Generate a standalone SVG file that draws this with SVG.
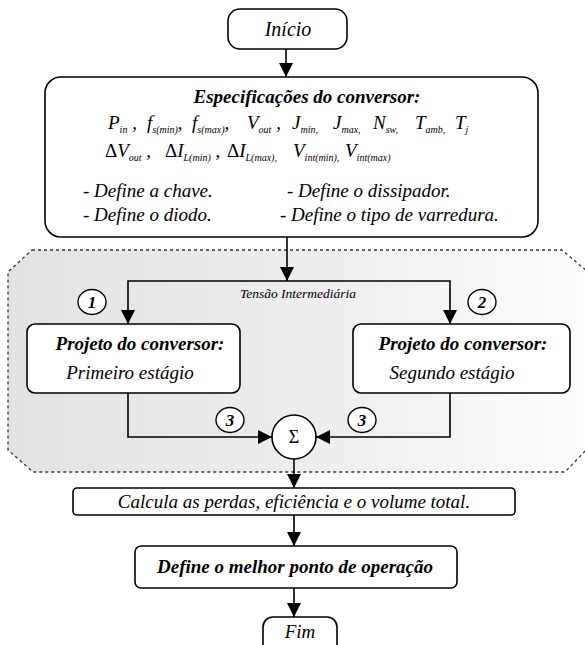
<svg xmlns="http://www.w3.org/2000/svg" width="585" height="645" viewBox="0 0 585 645">
<defs>
<linearGradient id="g" x1="0" y1="0" x2="1" y2="0">
<stop offset="0" stop-color="#e2e2e2"/>
<stop offset="0.6" stop-color="#efefef"/>
<stop offset="1" stop-color="#fdfdfd"/>
</linearGradient>
<marker id="ar" markerUnits="userSpaceOnUse" markerWidth="16" markerHeight="16" viewBox="0 0 16 16" refX="14" refY="8" orient="auto">
<path d="M0,1 L14,8 L0,15 Z" fill="#000"/>
</marker>
</defs>
<g id="region">
<path d="M32,250 L562,250 L588,272 L588,448 L565,472 L33,472 L8,450 L8,272 Z" fill="url(#g)" stroke="#333" stroke-width="1.3" stroke-dasharray="3,3"/>
</g>
<g id="connectors" fill="none" stroke="#000" stroke-width="1.6">
<line x1="286" y1="49" x2="286" y2="77" marker-end="url(#ar)"/>
<line x1="287" y1="237" x2="287" y2="281" marker-end="url(#ar)"/>
<polyline points="287,281 128,281 128,324" marker-end="url(#ar)"/>
<polyline points="287,281 450,281 450,324" marker-end="url(#ar)"/>
<polyline points="128,393 128,437 272,437" marker-end="url(#ar)"/>
<polyline points="450,393 450,437 316,437" marker-end="url(#ar)"/>
<line x1="294" y1="459" x2="294" y2="488" marker-end="url(#ar)"/>
<line x1="294" y1="515" x2="294" y2="546" marker-end="url(#ar)"/>
<line x1="294" y1="588" x2="294" y2="617" marker-end="url(#ar)"/>
</g>
<text x="298" y="298" font-family="Liberation Serif" font-style="italic" font-size="13.5" text-anchor="middle">Tensão Intermediária</text>
<g id="inicio">
<rect x="228" y="9" width="119" height="40" rx="12" fill="#fff" stroke="#000" stroke-width="1.6"/>
<text x="288" y="36" font-family="Liberation Serif" font-style="italic" font-size="20" text-anchor="middle">Início</text>
</g>
<g id="spec">
<rect x="45" y="77" width="493" height="160" rx="16" fill="#fff" stroke="#000" stroke-width="1.6"/>
<text x="307" y="103" font-family="Liberation Serif" font-style="italic" font-weight="bold" font-size="19" text-anchor="middle">Especificações do conversor:</text>
<text y="129" font-family="Liberation Serif" font-style="italic" font-size="19"><tspan x="108">P</tspan><tspan font-size="10" dy="4">in</tspan><tspan dy="-4"> ,</tspan><tspan x="147">f</tspan><tspan font-size="10" dy="4">s(min)</tspan><tspan dy="-4">,</tspan><tspan x="192">f</tspan><tspan font-size="10" dy="4">s(max)</tspan><tspan dy="-4">,</tspan><tspan x="247">V</tspan><tspan font-size="10" dy="4">out</tspan><tspan dy="-4"> ,</tspan><tspan x="292">J</tspan><tspan font-size="10" dy="4">min,</tspan><tspan x="333" dy="-4">J</tspan><tspan font-size="10" dy="4">max,</tspan><tspan x="373" dy="-4">N</tspan><tspan font-size="10" dy="4">sw,</tspan><tspan x="415" dy="-4">T</tspan><tspan font-size="10" dy="4">amb,</tspan><tspan x="455" dy="-4">T</tspan><tspan font-size="10" dy="4">j</tspan></text>
<text y="157" font-family="Liberation Serif" font-style="italic" font-size="19"><tspan x="105" font-style="normal">Δ</tspan><tspan>V</tspan><tspan font-size="10" dy="4">out</tspan><tspan dy="-4"> ,</tspan><tspan x="165" font-style="normal">Δ</tspan><tspan>I</tspan><tspan font-size="10" dy="4">L(min)</tspan><tspan dy="-4"> ,</tspan><tspan x="227" font-style="normal">Δ</tspan><tspan>I</tspan><tspan font-size="10" dy="4">L(max),</tspan><tspan x="293" dy="-4">V</tspan><tspan font-size="10" dy="4">int(min),</tspan><tspan x="345" dy="-4">V</tspan><tspan font-size="10" dy="4">int(max)</tspan></text>
<text x="83" y="197" font-family="Liberation Serif" font-style="italic" font-size="19">- Define a chave.</text>
<text x="287" y="197" font-family="Liberation Serif" font-style="italic" font-size="19">- Define o dissipador.</text>
<text x="83" y="221" font-family="Liberation Serif" font-style="italic" font-size="19">- Define o diodo.</text>
<text x="280" y="221" font-family="Liberation Serif" font-style="italic" font-size="19">- Define o tipo de varredura.</text>
</g>
<g id="n1">
<ellipse cx="92" cy="302" rx="14" ry="12.5" fill="#fff" stroke="#000" stroke-width="1.4"/>
<text x="92" y="308" font-family="Liberation Serif" font-style="italic" font-weight="bold" font-size="17" text-anchor="middle">1</text>
</g>
<g id="n2">
<ellipse cx="482" cy="302" rx="14" ry="12.5" fill="#fff" stroke="#000" stroke-width="1.4"/>
<text x="482" y="308" font-family="Liberation Serif" font-style="italic" font-weight="bold" font-size="17" text-anchor="middle">2</text>
</g>
<g id="stage1">
<rect x="27" y="324" width="213" height="69" rx="8" fill="#fff" stroke="#000" stroke-width="1.6"/>
<text x="140" y="350" font-family="Liberation Serif" font-style="italic" font-weight="bold" font-size="19" text-anchor="middle">Projeto do conversor:</text>
<text x="130" y="379" font-family="Liberation Serif" font-style="italic" font-size="19" text-anchor="middle">Primeiro estágio</text>
</g>
<g id="stage2">
<rect x="353" y="324" width="217" height="69" rx="8" fill="#fff" stroke="#000" stroke-width="1.6"/>
<text x="463" y="350" font-family="Liberation Serif" font-style="italic" font-weight="bold" font-size="19" text-anchor="middle">Projeto do conversor:</text>
<text x="452" y="379" font-family="Liberation Serif" font-style="italic" font-size="19" text-anchor="middle">Segundo estágio</text>
</g>
<g id="n3a">
<ellipse cx="230" cy="420" rx="14" ry="12.5" fill="#fff" stroke="#000" stroke-width="1.4"/>
<text x="230" y="426" font-family="Liberation Serif" font-style="italic" font-weight="bold" font-size="17" text-anchor="middle">3</text>
</g>
<g id="n3b">
<ellipse cx="362" cy="420" rx="14" ry="12.5" fill="#fff" stroke="#000" stroke-width="1.4"/>
<text x="362" y="426" font-family="Liberation Serif" font-style="italic" font-weight="bold" font-size="17" text-anchor="middle">3</text>
</g>
<g id="sum">
<circle cx="294" cy="437" r="22" fill="#fff" stroke="#000" stroke-width="1.6"/>
<text x="294" y="443" font-family="Liberation Serif" font-size="18" text-anchor="middle">Σ</text>
</g>
<g id="calc">
<rect x="73" y="488" width="442" height="27" rx="4" fill="#fff" stroke="#000" stroke-width="1.6"/>
<text x="294" y="508" font-family="Liberation Serif" font-style="italic" font-size="19" text-anchor="middle">Calcula as perdas, eficiência e o volume total.</text>
</g>
<g id="best">
<rect x="135" y="546" width="322" height="42" rx="6" fill="#fff" stroke="#000" stroke-width="1.6"/>
<text x="295" y="573" font-family="Liberation Serif" font-style="italic" font-weight="bold" font-size="19" text-anchor="middle">Define o melhor ponto de operação</text>
</g>
<g id="fim">
<rect x="263" y="617" width="74" height="40" rx="10" fill="#fff" stroke="#000" stroke-width="1.6"/>
<text x="300" y="638" font-family="Liberation Serif" font-style="italic" font-size="19" text-anchor="middle">Fim</text>
</g>
</svg>
